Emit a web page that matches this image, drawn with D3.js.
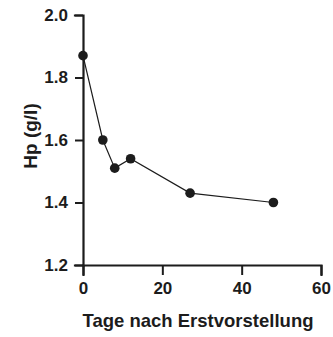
<!DOCTYPE html>
<html>
<head>
<meta charset="utf-8">
<script src="https://cdn.jsdelivr.net/npm/d3@7/dist/d3.min.js"></script>
<style>
  html, body { margin: 0; padding: 0; background: #fff; }
  svg { display: block; font-family: "Liberation Sans", Arial, sans-serif; }
</style>
</head>
<body>
<svg id="chart" width="333" height="337"></svg>
<script>
// Haptoglobin over time after first presentation
const days = [0, 5, 8, 12, 27, 48];
const hp = [1.87, 1.60, 1.51, 1.54, 1.43, 1.40];
const xTicks = [0, 20, 40, 60];
const yTicks = [1.2, 1.4, 1.6, 1.8, 2.0];
const xTitle = "Tage nach Erstvorstellung";
const yTitle = "Hp (g/l)";

const ink = "#1c1c1c";
const svg = d3.select("#chart");
const margin = { left: 83, right: 12, top: 15, bottom: 72 };
const W = 333, H = 337;

const x = d3.scaleLinear().domain([0, 60]).range([margin.left, W - margin.right]);
const y = d3.scaleLinear().domain([1.2, 2.0]).range([H - margin.bottom, margin.top]);

// axes
const xAxis = svg.append("g")
  .attr("transform", `translate(0,${y(1.2)})`)
  .call(d3.axisBottom(x).tickValues(xTicks).tickFormat(d3.format("d")).tickSize(10).tickPadding(7));
const yAxis = svg.append("g")
  .attr("transform", `translate(${x(0)},0)`)
  .call(d3.axisLeft(y).tickValues(yTicks).tickFormat(d3.format(".1f")).tickSize(8).tickPadding(7));

[xAxis, yAxis].forEach(g => {
  g.select(".domain").attr("stroke", ink).attr("stroke-width", 2.2).attr("stroke-linecap", "square");
  g.selectAll(".tick line").attr("stroke", ink).attr("stroke-width", 2);
  g.selectAll(".tick text").attr("fill", ink)
    .attr("font-size", 17).attr("font-weight", "bold")
    .attr("font-family", "'Liberation Sans', Arial, sans-serif");
});

// data line
const pts = days.map((d, i) => [d, hp[i]]);
svg.append("path")
  .datum(pts)
  .attr("fill", "none")
  .attr("stroke", ink)
  .attr("stroke-width", 1.2)
  .attr("d", d3.line().x(d => x(d[0])).y(d => y(d[1])));

svg.selectAll("circle.pt")
  .data(pts)
  .enter().append("circle")
  .attr("class", "pt")
  .attr("cx", d => x(d[0]))
  .attr("cy", d => y(d[1]))
  .attr("r", 4.8)
  .attr("fill", ink);

// axis titles
svg.append("text")
  .attr("x", 198)
  .attr("y", 327)
  .attr("text-anchor", "middle")
  .attr("fill", ink)
  .attr("font-size", 18.5)
  .attr("font-weight", "bold")
  .text(xTitle);

svg.append("text")
  .attr("transform", `translate(37,${136}) rotate(-90)`)
  .attr("text-anchor", "middle")
  .attr("fill", ink)
  .attr("font-size", 19)
  .attr("font-weight", "bold")
  .text(yTitle);
</script>
</body>
</html>
